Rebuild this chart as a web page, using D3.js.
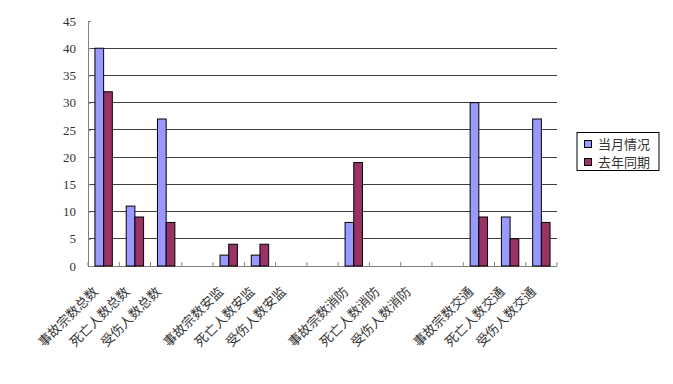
<!DOCTYPE html>
<html><head><meta charset="utf-8">
<script src="https://cdn.jsdelivr.net/npm/d3@7"></script>
<style>body{margin:0;background:#fff}</style>
</head><body><svg id="c" width="673" height="384"></svg>
<script>
const categories = ["事故宗数总数","死亡人数总数","受伤人数总数","",
  "事故宗数安监","死亡人数安监","受伤人数安监","",
  "事故宗数消防","死亡人数消防","受伤人数消防","",
  "事故宗数交通","死亡人数交通","受伤人数交通"];
const current = [40,11,27,null,2,2,0,null,8,0,0,null,30,9,27];
const lastYear = [32,9,8,null,4,4,0,null,19,0,0,null,9,5,8];
const seriesNames = ["当月情况","去年同期"];
const colors = ["#9999FF","#993366"];
const yTicks = [0,5,10,15,20,25,30,35,40,45];

const svg = d3.select("#c");
const m = {l:88, r:557, t:21, b:266};
const x = d3.scaleBand().domain(d3.range(categories.length)).range([m.l, m.r]).paddingInner(0).paddingOuter(0);
const y = d3.scaleLinear().domain([0,45]).range([m.b, m.t]);
const bw = x.bandwidth()*0.278;
const off = (x.bandwidth()-2*bw)/2;

// gridlines
svg.append("g").selectAll("line").data(yTicks.filter(d=>d>0 && d<45)).join("line")
  .attr("x1", m.l).attr("x2", m.r).attr("y1", d=>y(d)).attr("y2", d=>y(d))
  .attr("stroke","#404040").attr("stroke-width",1).attr("shape-rendering","crispEdges");

// y axis
const ya = svg.append("g").attr("transform",`translate(${m.l},0)`)
  .call(d3.axisLeft(y).tickValues(yTicks).tickSize(-3).tickPadding(12));
ya.select(".domain").attr("stroke","#808080");
ya.selectAll(".tick line").attr("stroke","#808080");
ya.selectAll("text").attr("font-family","'Liberation Serif', serif").attr("font-size",13).attr("fill","#333");

// x axis
const xa = svg.append("g").attr("transform",`translate(0,${m.b})`);
xa.append("line").attr("x1",m.l).attr("x2",m.r).attr("stroke","#808080").attr("shape-rendering","crispEdges");
xa.selectAll(".tk").data(d3.range(categories.length+1)).join("line")
  .attr("x1", i=>m.l+i*x.step()).attr("x2", i=>m.l+i*x.step())
  .attr("y1",0).attr("y2",-4).attr("stroke","#808080");

// bars
const data = categories.map((c,i)=>({i, v:[current[i], lastYear[i]]}));
[0,1].forEach(s=>{
  svg.append("g").selectAll("rect").data(data.filter(d=>d.v[s])).join("rect")
    .attr("x", d=>x(d.i)+off+s*bw).attr("width", bw)
    .attr("y", d=>y(d.v[s])).attr("height", d=>y(0)-y(d.v[s]))
    .attr("fill", colors[s]).attr("stroke","#000").attr("stroke-width",1);
});

// x labels
svg.append("g").selectAll("text").data(categories.map((c,i)=>({c,i})).filter(d=>d.c)).join("text")
  .attr("transform", d=>`translate(${x(d.i)+x.bandwidth()/2-11},${m.b+20}) rotate(-45)`)
  .attr("text-anchor","end").attr("dy","0.7em")
  .attr("font-family","'Noto Sans CJK SC', sans-serif").attr("font-size",13).attr("fill","#333")
  .text(d=>d.c);

// legend
const lg = svg.append("g");
lg.append("rect").attr("x",577).attr("y",132.5).attr("width",82).attr("height",38)
  .attr("fill","#fff").attr("stroke","#000");
seriesNames.forEach((n,k)=>{
  lg.append("rect").attr("x",584.5).attr("y",140.5+k*18).attr("width",7).attr("height",7)
    .attr("fill",colors[k]).attr("stroke","#000");
  lg.append("text").attr("x",598).attr("y",144+k*18).attr("dy","0.35em")
    .attr("font-family","'Noto Sans CJK SC', sans-serif").attr("font-size",13).attr("fill","#333").text(n);
});
</script></body></html>
